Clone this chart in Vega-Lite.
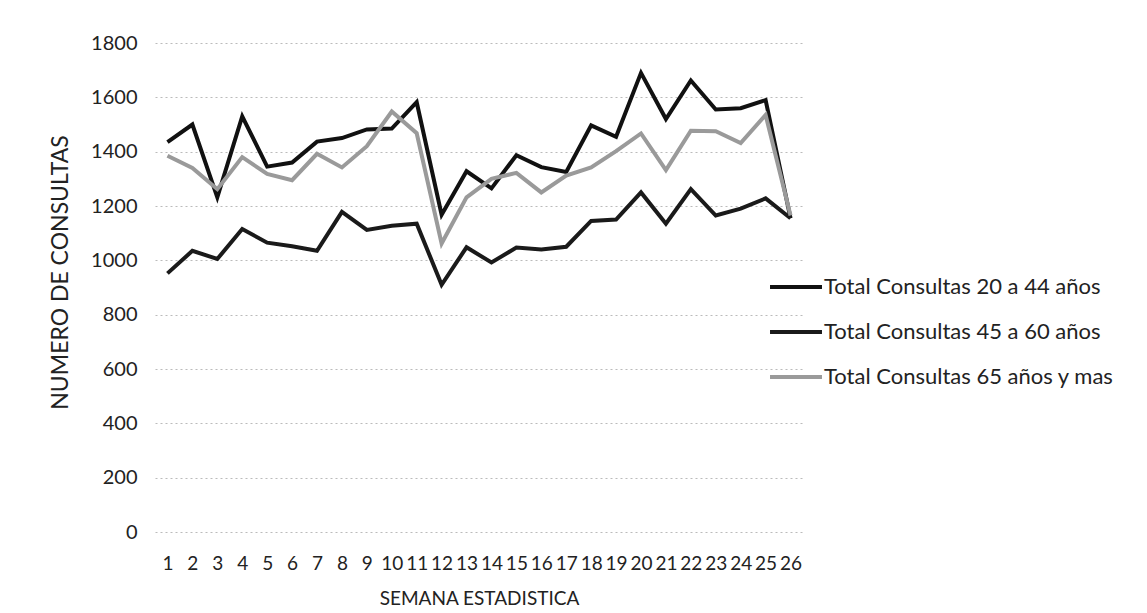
{
  "$schema": "https://vega.github.io/schema/vega-lite/v6.json",
  "width": 648,
  "height": 489,
  "autosize": {"type": "none"},
  "padding": {"left": 155, "top": 43, "right": 344, "bottom": 81},
  "background": "white",
  "config": {
    "font": "Lato",
    "view": {"stroke": null}
  },
  "data": {
    "values": [
      {"semana": 1, "serie": "Total Consultas 20 a 44 años", "valor": 1435},
      {"semana": 2, "serie": "Total Consultas 20 a 44 años", "valor": 1500},
      {"semana": 3, "serie": "Total Consultas 20 a 44 años", "valor": 1232},
      {"semana": 4, "serie": "Total Consultas 20 a 44 años", "valor": 1530},
      {"semana": 5, "serie": "Total Consultas 20 a 44 años", "valor": 1345},
      {"semana": 6, "serie": "Total Consultas 20 a 44 años", "valor": 1360},
      {"semana": 7, "serie": "Total Consultas 20 a 44 años", "valor": 1437},
      {"semana": 8, "serie": "Total Consultas 20 a 44 años", "valor": 1450},
      {"semana": 9, "serie": "Total Consultas 20 a 44 años", "valor": 1482},
      {"semana": 10, "serie": "Total Consultas 20 a 44 años", "valor": 1485},
      {"semana": 11, "serie": "Total Consultas 20 a 44 años", "valor": 1582},
      {"semana": 12, "serie": "Total Consultas 20 a 44 años", "valor": 1168},
      {"semana": 13, "serie": "Total Consultas 20 a 44 años", "valor": 1328},
      {"semana": 14, "serie": "Total Consultas 20 a 44 años", "valor": 1265},
      {"semana": 15, "serie": "Total Consultas 20 a 44 años", "valor": 1387},
      {"semana": 16, "serie": "Total Consultas 20 a 44 años", "valor": 1343},
      {"semana": 17, "serie": "Total Consultas 20 a 44 años", "valor": 1325},
      {"semana": 18, "serie": "Total Consultas 20 a 44 años", "valor": 1497},
      {"semana": 19, "serie": "Total Consultas 20 a 44 años", "valor": 1455},
      {"semana": 20, "serie": "Total Consultas 20 a 44 años", "valor": 1690},
      {"semana": 21, "serie": "Total Consultas 20 a 44 años", "valor": 1520},
      {"semana": 22, "serie": "Total Consultas 20 a 44 años", "valor": 1662},
      {"semana": 23, "serie": "Total Consultas 20 a 44 años", "valor": 1555},
      {"semana": 24, "serie": "Total Consultas 20 a 44 años", "valor": 1560},
      {"semana": 25, "serie": "Total Consultas 20 a 44 años", "valor": 1590},
      {"semana": 26, "serie": "Total Consultas 20 a 44 años", "valor": 1155},
      {"semana": 1, "serie": "Total Consultas 45 a 60 años", "valor": 952},
      {"semana": 2, "serie": "Total Consultas 45 a 60 años", "valor": 1035},
      {"semana": 3, "serie": "Total Consultas 45 a 60 años", "valor": 1005},
      {"semana": 4, "serie": "Total Consultas 45 a 60 años", "valor": 1115},
      {"semana": 5, "serie": "Total Consultas 45 a 60 años", "valor": 1065},
      {"semana": 6, "serie": "Total Consultas 45 a 60 años", "valor": 1052},
      {"semana": 7, "serie": "Total Consultas 45 a 60 años", "valor": 1035},
      {"semana": 8, "serie": "Total Consultas 45 a 60 años", "valor": 1178},
      {"semana": 9, "serie": "Total Consultas 45 a 60 años", "valor": 1112},
      {"semana": 10, "serie": "Total Consultas 45 a 60 años", "valor": 1127},
      {"semana": 11, "serie": "Total Consultas 45 a 60 años", "valor": 1135},
      {"semana": 12, "serie": "Total Consultas 45 a 60 años", "valor": 910},
      {"semana": 13, "serie": "Total Consultas 45 a 60 años", "valor": 1048},
      {"semana": 14, "serie": "Total Consultas 45 a 60 años", "valor": 992},
      {"semana": 15, "serie": "Total Consultas 45 a 60 años", "valor": 1047},
      {"semana": 16, "serie": "Total Consultas 45 a 60 años", "valor": 1040},
      {"semana": 17, "serie": "Total Consultas 45 a 60 años", "valor": 1050},
      {"semana": 18, "serie": "Total Consultas 45 a 60 años", "valor": 1145},
      {"semana": 19, "serie": "Total Consultas 45 a 60 años", "valor": 1150},
      {"semana": 20, "serie": "Total Consultas 45 a 60 años", "valor": 1250},
      {"semana": 21, "serie": "Total Consultas 45 a 60 años", "valor": 1135},
      {"semana": 22, "serie": "Total Consultas 45 a 60 años", "valor": 1262},
      {"semana": 23, "serie": "Total Consultas 45 a 60 años", "valor": 1165},
      {"semana": 24, "serie": "Total Consultas 45 a 60 años", "valor": 1190},
      {"semana": 25, "serie": "Total Consultas 45 a 60 años", "valor": 1228},
      {"semana": 26, "serie": "Total Consultas 45 a 60 años", "valor": 1155},
      {"semana": 1, "serie": "Total Consultas 65 años y mas", "valor": 1385},
      {"semana": 2, "serie": "Total Consultas 65 años y mas", "valor": 1340},
      {"semana": 3, "serie": "Total Consultas 65 años y mas", "valor": 1262},
      {"semana": 4, "serie": "Total Consultas 65 años y mas", "valor": 1380},
      {"semana": 5, "serie": "Total Consultas 65 años y mas", "valor": 1318},
      {"semana": 6, "serie": "Total Consultas 65 años y mas", "valor": 1295},
      {"semana": 7, "serie": "Total Consultas 65 años y mas", "valor": 1392},
      {"semana": 8, "serie": "Total Consultas 65 años y mas", "valor": 1342},
      {"semana": 9, "serie": "Total Consultas 65 años y mas", "valor": 1420},
      {"semana": 10, "serie": "Total Consultas 65 años y mas", "valor": 1548},
      {"semana": 11, "serie": "Total Consultas 65 años y mas", "valor": 1468},
      {"semana": 12, "serie": "Total Consultas 65 años y mas", "valor": 1062},
      {"semana": 13, "serie": "Total Consultas 65 años y mas", "valor": 1232},
      {"semana": 14, "serie": "Total Consultas 65 años y mas", "valor": 1300},
      {"semana": 15, "serie": "Total Consultas 65 años y mas", "valor": 1322},
      {"semana": 16, "serie": "Total Consultas 65 años y mas", "valor": 1250},
      {"semana": 17, "serie": "Total Consultas 65 años y mas", "valor": 1312},
      {"semana": 18, "serie": "Total Consultas 65 años y mas", "valor": 1342},
      {"semana": 19, "serie": "Total Consultas 65 años y mas", "valor": 1402},
      {"semana": 20, "serie": "Total Consultas 65 años y mas", "valor": 1467},
      {"semana": 21, "serie": "Total Consultas 65 años y mas", "valor": 1332},
      {"semana": 22, "serie": "Total Consultas 65 años y mas", "valor": 1477},
      {"semana": 23, "serie": "Total Consultas 65 años y mas", "valor": 1475},
      {"semana": 24, "serie": "Total Consultas 65 años y mas", "valor": 1432},
      {"semana": 25, "serie": "Total Consultas 65 años y mas", "valor": 1535},
      {"semana": 26, "serie": "Total Consultas 65 años y mas", "valor": 1165}
    ]
  },
  "mark": {"type": "line", "strokeWidth": 4, "strokeJoin": "miter"},
  "encoding": {
    "x": {
      "field": "semana",
      "type": "ordinal",
      "scale": {"type": "point", "padding": 0.5},
      "axis": {
        "title": "SEMANA ESTADISTICA",
        "titleFontSize": 19,
        "titleFontWeight": "normal",
        "titleColor": "#222",
        "titlePadding": 16,
        "labelAngle": 0,
        "labelFontSize": 19,
        "labelColor": "#222",
        "labelPadding": 22,
        "labelOverlap": false,
        "ticks": false,
        "domain": false,
        "grid": false
      }
    },
    "y": {
      "field": "valor",
      "type": "quantitative",
      "scale": {"domain": [0, 1800]},
      "axis": {
        "title": "NUMERO DE CONSULTAS",
        "titleFontSize": 23,
        "titleFontWeight": "normal",
        "titleColor": "#222",
        "titlePadding": 18,
        "titleY": 229,
        "values": [0, 200, 400, 600, 800, 1000, 1200, 1400, 1600, 1800],
        "format": "d",
        "labelFontSize": 20,
        "labelColor": "#222",
        "labelPadding": 18,
        "ticks": false,
        "domain": false,
        "grid": true,
        "gridColor": "#bbbbbb",
        "gridDash": [2, 3],
        "gridWidth": 1
      }
    },
    "color": {
      "field": "serie",
      "type": "nominal",
      "scale": {
        "domain": ["Total Consultas 20 a 44 años", "Total Consultas 45 a 60 años", "Total Consultas 65 años y mas"],
        "range": ["#111111", "#1a1a1a", "#9a9a9a"]
      },
      "legend": {
        "title": null,
        "orient": "none",
        "legendX": 613,
        "legendY": 216,
        "symbolType": "stroke",
        "symbolStrokeWidth": 4,
        "symbolSize": 2700,
        "labelFontSize": 22,
        "labelLimit": 0,
        "labelColor": "#222",
        "labelOffset": 0,
        "rowPadding": 6
      }
    }
  }
}
